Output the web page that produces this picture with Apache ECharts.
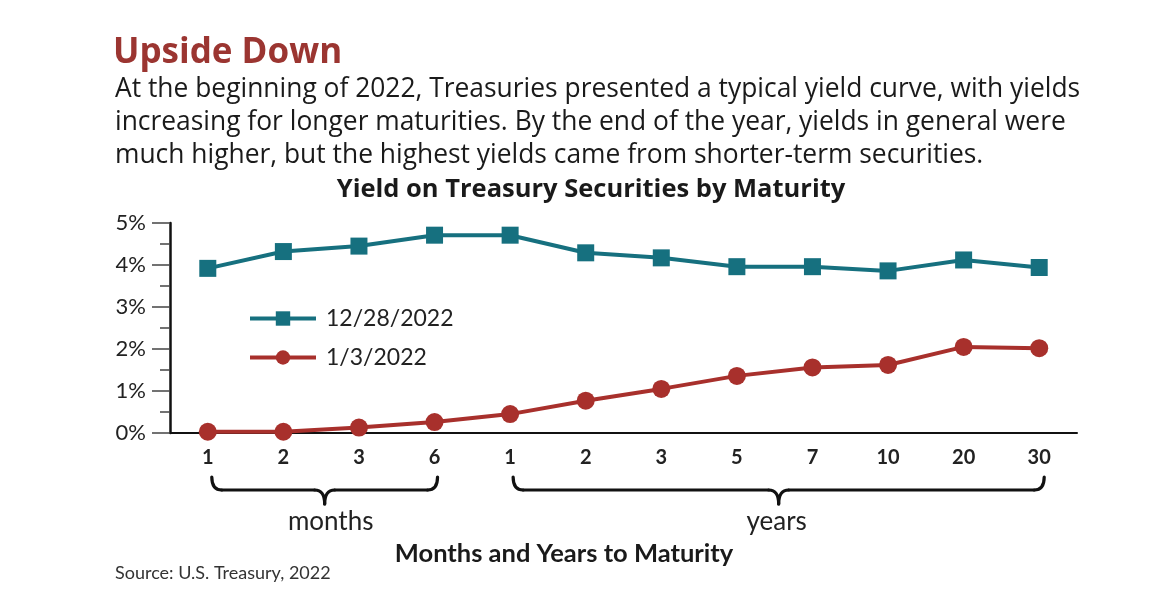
<!DOCTYPE html>
<html>
<head>
<meta charset="utf-8">
<script src="https://cdn.jsdelivr.net/npm/echarts@6/dist/echarts.min.js"></script>
<style>
html,body{margin:0;padding:0;background:#fff;}
#c{width:1173px;height:615px;}
</style>
</head>
<body>
<div id="c"></div>
<script>
// ---- data ----
const maturities = ['1M','2M','3M','6M','1Y','2Y','3Y','5Y','7Y','10Y','20Y','30Y'];
const tickLabels = ['1','2','3','6','1','2','3','5','7','10','20','30'];
const yieldDec2022 = [3.92, 4.32, 4.45, 4.71, 4.71, 4.29, 4.17, 3.96, 3.96, 3.86, 4.12, 3.94];
const yieldJan2022 = [0.03, 0.03, 0.13, 0.26, 0.45, 0.77, 1.05, 1.36, 1.56, 1.62, 2.05, 2.02];
const seriesNames = ['12/28/2022', '1/3/2022'];
const yTicks = [0, 1, 2, 3, 4, 5];

const TEAL = '#16707f';
const RED = '#a8302c';
const FONT = 'Lato';
const BODY = 'Open Sans';

const chart = echarts.init(document.getElementById('c'), null, {renderer: 'canvas'});

const option = {
  backgroundColor: '#fff',
  animation: false,
  grid: {left: 170, right: 96, top: 223, bottom: 182, containLabel: false},
  legend: {
    orient: 'vertical',
    left: 248, top: 307, padding: 0,
    itemWidth: 66, itemHeight: 18, itemGap: 16,
    data: seriesNames,
    lineStyle: {width: 4},
    textStyle: {fontFamily: FONT, fontSize: 23, color: '#222', padding: [0,0,0,5]}
  },
  xAxis: {
    type: 'category',
    data: maturities,
    boundaryGap: true,
    axisLine: {lineStyle: {color: '#111', width: 2}},
    axisTick: {alignWithLabel: true, length: 8, lineStyle: {color: '#444', width: 1.5}},
    axisLabel: {
      margin: 15, fontFamily: FONT, fontWeight: 'bold', fontSize: 20, color: '#222',
      formatter: (v, i) => tickLabels[i]
    },
    splitLine: {show: false}
  },
  yAxis: {
    type: 'value',
    min: yTicks[0], max: yTicks[yTicks.length - 1], interval: 1,
    axisLine: {show: true, lineStyle: {color: '#111', width: 2.5}},
    axisTick: {show: true, length: 18, lineStyle: {color: '#444', width: 1.5}},
    minorTick: {show: true, splitNumber: 2, length: 10, lineStyle: {color: '#444', width: 1.5}},
    axisLabel: {margin: 24, fontFamily: FONT, fontSize: 22, color: '#222', formatter: '{value}%'},
    splitLine: {show: false}
  },
  series: [
    {
      name: seriesNames[0], type: 'line', data: yieldDec2022,
      symbol: 'rect', symbolSize: 17,
      lineStyle: {color: TEAL, width: 4},
      itemStyle: {color: TEAL}
    },
    {
      name: seriesNames[1], type: 'line', data: yieldJan2022,
      symbol: 'circle', symbolSize: 18,
      lineStyle: {color: RED, width: 4},
      itemStyle: {color: RED}
    }
  ]
};
chart.setOption(option);

// ---- braces and text, anchored to the axis positions ----
function brace(x1, x2, yTop, yMid, yBot) {
  const xm = (x1 + x2) / 2, r = 10;
  const st = {stroke: '#111', lineWidth: 3.2, fill: null, lineCap: 'round'};
  return {
    type: 'group',
    children: [
      {type: 'bezierCurve', shape: {x1: x1, y1: yTop, cpx1: x1, cpy1: yMid, x2: x1 + r, y2: yMid}, style: st},
      {type: 'line', shape: {x1: x1 + r, y1: yMid, x2: xm - r, y2: yMid}, style: st},
      {type: 'bezierCurve', shape: {x1: xm - r, y1: yMid, cpx1: xm, cpy1: yMid, x2: xm, y2: yBot}, style: st},
      {type: 'bezierCurve', shape: {x1: xm, y1: yBot, cpx1: xm, cpy1: yMid, x2: xm + r, y2: yMid}, style: st},
      {type: 'line', shape: {x1: xm + r, y1: yMid, x2: x2 - r, y2: yMid}, style: st},
      {type: 'bezierCurve', shape: {x1: x2 - r, y1: yMid, cpx1: x2, cpy1: yMid, x2: x2, y2: yTop}, style: st}
    ]
  };
}
const px = i => chart.convertToPixel({xAxisIndex: 0}, maturities[i]);
const mx1 = px(0) + 4, mx2 = px(3) + 3;
const yx1 = px(4) + 3, yx2 = px(11) + 5;
const yTop = 477, yMid = 490, yBot = 504;

chart.setOption({
  graphic: [
    {type: 'text', x: 113, y: 53, style: {text: 'Upside Down', fontFamily: BODY, fontWeight: 'bold', fontSize: 35, fill: '#9b3531', verticalAlign: 'middle'}},
    {type: 'text', x: 115, y: 73, style: {
      text: 'At the beginning of 2022, Treasuries presented a typical yield curve, with yields\nincreasing for longer maturities. By the end of the year, yields in general were\nmuch higher, but the highest yields came from shorter-term securities.',
      fontFamily: BODY, fontSize: 26.4, lineHeight: 33, fill: '#1a1a1a'}},
    {type: 'text', x: 591, y: 190, style: {text: 'Yield on Treasury Securities by Maturity', fontFamily: BODY, fontWeight: 'bold', fontSize: 25.5, fill: '#1a1a1a', align: 'center', verticalAlign: 'middle'}},
    brace(mx1, mx2, yTop, yMid, yBot),
    brace(yx1, yx2, yTop, yMid, yBot),
    {type: 'text', x: (mx1 + mx2) / 2 + 6, y: 522, style: {text: 'months', fontFamily: FONT, fontSize: 26, fill: '#222', align: 'center', verticalAlign: 'middle'}},
    {type: 'text', x: (yx1 + yx2) / 2 - 2, y: 522, style: {text: 'years', fontFamily: FONT, fontSize: 26, fill: '#222', align: 'center', verticalAlign: 'middle'}},
    {type: 'text', x: 564, y: 554, style: {text: 'Months and Years to Maturity', fontFamily: FONT, fontWeight: 'bold', fontSize: 25.5, fill: '#1a1a1a', align: 'center', verticalAlign: 'middle'}},
    {type: 'text', x: 115, y: 573, style: {text: 'Source: U.S. Treasury, 2022', fontFamily: FONT, fontSize: 18, fill: '#333', verticalAlign: 'middle'}}
  ]
});
</script>
</body>
</html>
